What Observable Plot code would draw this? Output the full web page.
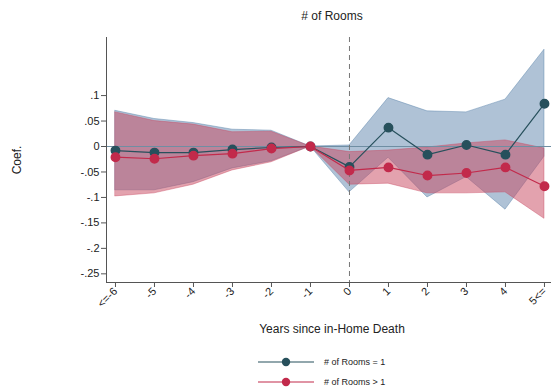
<!DOCTYPE html>
<html>
<head>
<meta charset="utf-8">
<script src="https://cdn.jsdelivr.net/npm/d3@7"></script>
<script src="https://cdn.jsdelivr.net/npm/@observablehq/plot@0.6"></script>
<style>
  html, body { margin: 0; padding: 0; background: #fff; }
  #wrap { position: relative; width: 551px; height: 391px; font-family: "Liberation Sans", Arial, sans-serif; color: #222; overflow: hidden; }
  #chart { position: absolute; left: 0; top: 0; }
  .lbl { position: absolute; white-space: nowrap; }
  #title { top: 9px; left: 0; width: 664px; text-align: center; font-size: 12px; }
  #xlab { top: 322px; left: 0; width: 664px; text-align: center; font-size: 12px; }
  #ylab { left: 17px; top: 160px; transform: translate(-50%, -50%) rotate(-90deg); font-size: 12px; }
  #legend { position: absolute; left: 258px; top: 352px; }
  .row { display: flex; align-items: center; height: 20px; }
  .row svg { display: block; }
  .row span { font-size: 9px; margin-left: 10px; }
</style>
</head>
<body>
<div id="wrap">
  <div id="chart"></div>
  <div class="lbl" id="title"># of Rooms</div>
  <div class="lbl" id="ylab">Coef.</div>
  <div class="lbl" id="xlab">Years since in-Home Death</div>
  <div id="legend"></div>
</div>
<script>
// Event time (years relative to the in-home death); -1 is the reference year
const years = [-6, -5, -4, -3, -2, -1, 0, 1, 2, 3, 4, 5];
const yearLabels = ["<=-6", "-5", "-4", "-3", "-2", "-1", "0", "1", "2", "3", "4", "5<="];

// # of Rooms = 1: coefficient and 95% CI
const roomsOne   = [-0.008, -0.012, -0.012, -0.006, -0.002, 0, -0.040, 0.037, -0.016, 0.003, -0.016, 0.084];
const roomsOneLo = [-0.086, -0.086, -0.070, -0.043, -0.029, 0, -0.090, -0.022, -0.100, -0.060, -0.124, -0.020];
const roomsOneHi = [0.070, 0.054, 0.046, 0.033, 0.031, 0, 0.002, 0.095, 0.069, 0.067, 0.092, 0.190];

// # of Rooms > 1: coefficient and 95% CI
const roomsMany   = [-0.021, -0.024, -0.018, -0.014, -0.004, 0, -0.047, -0.041, -0.057, -0.052, -0.041, -0.078];
const roomsManyLo = [-0.098, -0.092, -0.075, -0.047, -0.031, 0, -0.075, -0.073, -0.092, -0.092, -0.090, -0.142];
const roomsManyHi = [0.067, 0.050, 0.043, 0.028, 0.029, 0, -0.011, -0.008, -0.002, 0.006, 0.012, -0.004];

const yTicks = [0.1, 0.05, 0, -0.05, -0.1, -0.15, -0.2, -0.25];
const xDomain = [-6.23, 5.18];
const yDomain = [-0.267, 0.214];

const seriesNames = ["# of Rooms = 1", "# of Rooms > 1"];
const lineColors = ["#27505c", "#c22a4b"];
const bandColors = ["#5f86ad", "#c8465e"];

const one = years.map((x, i) => ({x, y: roomsOne[i], lo: roomsOneLo[i], hi: roomsOneHi[i]}));
const many = years.map((x, i) => ({x, y: roomsMany[i], lo: roomsManyLo[i], hi: roomsManyHi[i]}));

const fmtY = d => d === 0 ? "0" : String(d).replace(/^(-?)0\./, "$1.");
const fmtX = d => yearLabels[years.indexOf(d)];

const chart = Plot.plot({
  width: 551,
  height: 312,
  marginLeft: 106,
  marginRight: 0,
  marginTop: 37,
  marginBottom: 30,
  style: {fontFamily: "Liberation Sans, Arial, sans-serif", fontSize: "11px", color: "#222", background: "transparent", overflow: "visible"},
  x: {domain: xDomain},
  y: {domain: yDomain},
  marks: [
    // confidence bands
    Plot.areaY(one, {x: "x", y1: "lo", y2: "hi", fill: bandColors[0], fillOpacity: 0.5, stroke: bandColors[0], strokeOpacity: 0.6, strokeWidth: 0.8}),
    Plot.areaY(many, {x: "x", y1: "lo", y2: "hi", fill: bandColors[1], fillOpacity: 0.5, stroke: bandColors[1], strokeOpacity: 0.5, strokeWidth: 0.8}),
    // zero line and event marker
    Plot.ruleY([0], {stroke: "#6f8ea3", strokeWidth: 1}),
    Plot.ruleX([0], {stroke: "#777", strokeWidth: 1, strokeDasharray: "5,4"}),
    // axis lines
    Plot.ruleX([xDomain[0]], {stroke: "#555", strokeWidth: 1}),
    Plot.ruleY([yDomain[0]], {stroke: "#555", strokeWidth: 1}),
    Plot.axisY({ticks: yTicks, tickFormat: fmtY, tickSize: 5, tickPadding: 2, label: null, stroke: "#555"}),
    Plot.axisX({ticks: years, tickFormat: fmtX, tickSize: 5, tickPadding: 2, tickRotate: -45, label: null, stroke: "#555"}),
    // coefficient lines and points
    Plot.line(one, {x: "x", y: "y", stroke: lineColors[0], strokeWidth: 1.2}),
    Plot.dot(one, {x: "x", y: "y", r: 4.2, fill: lineColors[0], stroke: lineColors[0]}),
    Plot.line(many, {x: "x", y: "y", stroke: lineColors[1], strokeWidth: 1.2}),
    Plot.dot(many, {x: "x", y: "y", r: 4.2, fill: lineColors[1], stroke: lineColors[1]})
  ]
});
document.getElementById("chart").appendChild(chart);

// legend
const legend = document.getElementById("legend");
seriesNames.forEach((name, i) => {
  const row = document.createElement("div");
  row.className = "row";
  row.innerHTML = `<svg width="56" height="12"><line x1="0" y1="6" x2="56" y2="6" stroke="${lineColors[i]}" stroke-width="1.2"/><circle cx="28" cy="6" r="4.2" fill="${lineColors[i]}"/></svg><span>${name}</span>`;
  legend.appendChild(row);
});
</script>
</body>
</html>
